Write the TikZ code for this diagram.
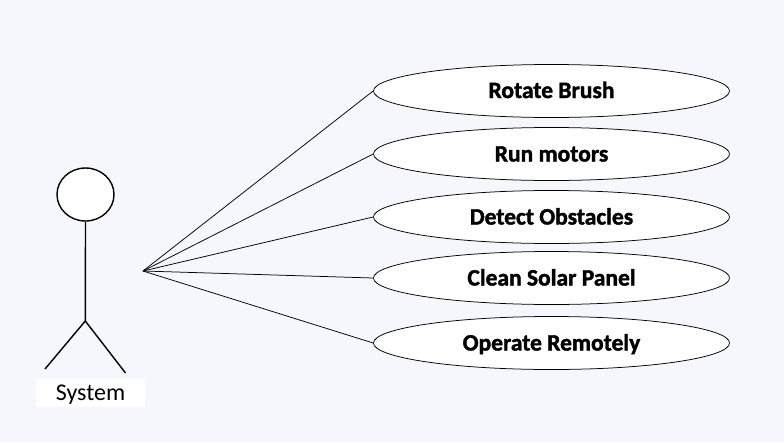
\documentclass[tikz,border=0pt]{standalone}
\usepackage{fontspec}
\setmainfont[BoldFeatures={FakeBold=1.6}]{Carlito}
\usetikzlibrary{shapes.geometric}
\definecolor{bgc}{RGB}{245,247,252}
\tikzset{
  usecase/.style={draw=black,fill=white,ellipse,line width=0.75pt,minimum width=356pt,minimum height=53pt,inner sep=0pt,font=\fontsize{23.5}{26}\selectfont\bfseries,text=black,text height=15pt,text depth=0pt},
  link/.style={draw=black,line width=0.75pt},
  actorline/.style={draw=black,line width=1.4pt}
}
\begin{document}
\begin{tikzpicture}[x=1pt,y=-1pt]
\fill[bgc] (0,0) rectangle (784,442);
\useasboundingbox (0,0) rectangle (784,442);
\node[usecase] (u1) at (551.5,91) {\raisebox{0.5pt}{Rotate Brush}};
\node[usecase] (u2) at (551.5,154) {Run motors};
\node[usecase] (u3) at (551.5,217) {Detect Obstacles};
\node[usecase] (u4) at (551.5,278) {Clean Solar Panel};
\node[usecase] (u5) at (551.5,343) {Operate Remotely};
\coordinate (hub) at (143,271);
\foreach \u in {u1,u2,u3,u4,u5} \draw[link] (hub) -- (\u.west);
\node[draw=black,fill=white,ellipse,line width=1.4pt,minimum width=57pt,minimum height=53pt,inner sep=0pt] (head) at (85.5,194.5) {};
\coordinate (hip) at (85.3,321);
\coordinate (lf) at (45,369);
\coordinate (rf) at (125.5,373);
\draw[actorline] (head.south) -- (hip);
\draw[actorline] (lf) -- (hip) -- (rf);
\node[fill=white,minimum width=109pt,minimum height=27.5pt,inner sep=0pt,font=\fontsize{24}{26}\selectfont,text=black,text height=15pt,text depth=0pt] (sys) at (90.5,393) {System};
\end{tikzpicture}
\end{document}
